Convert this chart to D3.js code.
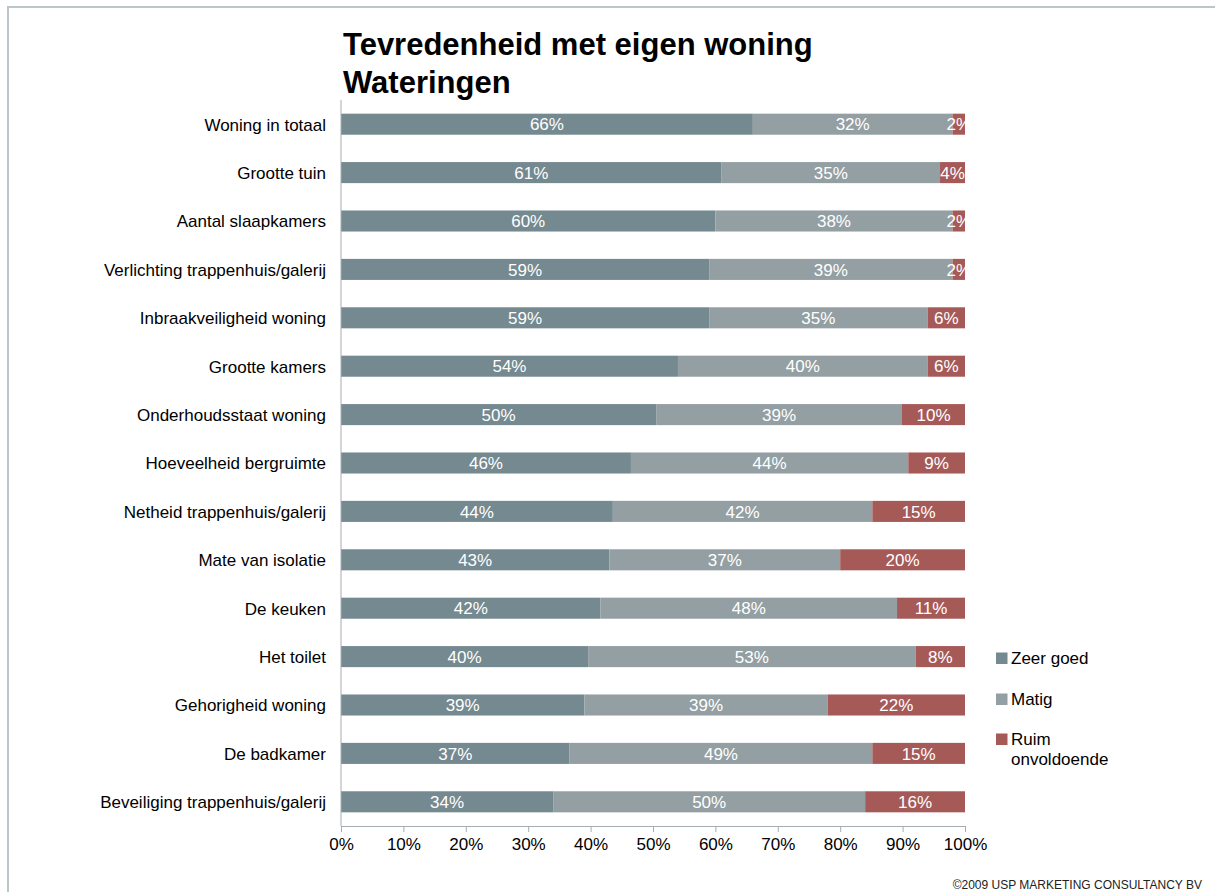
<!DOCTYPE html>
<html>
<head>
<meta charset="utf-8">
<script src="https://cdn.jsdelivr.net/npm/d3@7"></script>
<style>
  html, body { margin: 0; padding: 0; background: #fff; }
  svg { display: block; font-family: "Liberation Sans", Arial, sans-serif; }
  svg text { font-family: "Liberation Sans", Arial, sans-serif; }
</style>
</head>
<body>
<svg id="chart" width="1215" height="892"></svg>
<script>
// Survey items (top to bottom)
const categories = [
  "Woning in totaal",
  "Grootte tuin",
  "Aantal slaapkamers",
  "Verlichting trappenhuis/galerij",
  "Inbraakveiligheid woning",
  "Grootte kamers",
  "Onderhoudsstaat woning",
  "Hoeveelheid bergruimte",
  "Netheid trappenhuis/galerij",
  "Mate van isolatie",
  "De keuken",
  "Het toilet",
  "Gehorigheid woning",
  "De badkamer",
  "Beveiliging trappenhuis/galerij"
];

// Percentages per answer
const zeerGoed = [66, 61, 60, 59, 59, 54, 50, 46, 44, 43, 42, 40, 39, 37, 34];
const matig    = [32, 35, 38, 39, 35, 40, 39, 44, 42, 37, 48, 53, 39, 49, 50];
const ruimOnvoldoende = [2, 4, 2, 2, 6, 6, 10, 9, 15, 20, 11, 8, 22, 15, 16];

const seriesNames = ["Zeer goed", "Matig", "Ruim onvoldoende"];
const seriesColors = ["#748990", "#939fa3", "#a65a58"];
const xTicks = [0, 0.1, 0.2, 0.3, 0.4, 0.5, 0.6, 0.7, 0.8, 0.9, 1];

const titleLines = ["Tevredenheid met eigen woning", "Wateringen"];
const footer = "\u00a92009 USP MARKETING CONSULTANCY BV";

// Table built from the arrays above
const rows = categories.map((c, i) => ({
  cat: c,
  "Zeer goed": zeerGoed[i],
  "Matig": matig[i],
  "Ruim onvoldoende": ruimOnvoldoende[i]
}));

const svg = d3.select("#chart");
const FONT = "Liberation Sans, Arial, sans-serif";

// Slide frame
svg.append("path")
  .attr("d", "M8,1000 L8,7 L1215,7")
  .attr("fill", "none")
  .attr("stroke", "#bcc5c7")
  .attr("stroke-width", 2);

const plot = { left: 341, right: 965, top: 100, bottom: 826 };

const x = d3.scaleLinear().domain([0, 1]).range([plot.left, plot.right]);
const y = d3.scaleBand().domain(categories).range([plot.top, plot.bottom]).paddingInner(0.565).paddingOuter(0.2825);
const color = d3.scaleOrdinal().domain(seriesNames).range(seriesColors);

const stack = d3.stack().keys(seriesNames).offset(d3.stackOffsetExpand);
const stacked = stack(rows);

// Title
svg.append("g").selectAll("text")
  .data(titleLines)
  .join("text")
  .attr("x", 343)
  .attr("y", (d, i) => 55 + i * 38)
  .attr("font-size", 31)
  .attr("font-weight", "bold")
  .attr("fill", "#000")
  .text(d => d);

// Bars
const layers = svg.append("g").selectAll("g")
  .data(stacked)
  .join("g")
  .attr("fill", d => color(d.key));

layers.selectAll("rect")
  .data(d => d.map(s => ({ s, key: d.key })))
  .join("rect")
  .attr("x", d => x(d.s[0]))
  .attr("y", d => y(d.s.data.cat))
  .attr("width", d => x(d.s[1]) - x(d.s[0]))
  .attr("height", y.bandwidth());

// Value labels
layers.selectAll("text")
  .data(d => d.map(s => ({ s, key: d.key })))
  .join("text")
  .attr("x", d => (x(d.s[0]) + x(d.s[1])) / 2)
  .attr("y", d => y(d.s.data.cat) + y.bandwidth() / 2)
  .attr("dy", "0.36em")
  .attr("text-anchor", "middle")
  .attr("font-size", 17)
  .attr("fill", "#fff")
  .text(d => d.s.data[d.key] + "%");

// Category axis
const yAxis = svg.append("g")
  .attr("transform", `translate(${plot.left},0)`)
  .call(d3.axisLeft(y).tickSize(0).tickPadding(15));
yAxis.attr("font-family", FONT);
yAxis.select(".domain").attr("stroke", "#a4adb0").attr("d", `M0,${plot.top}V${plot.bottom}`);
yAxis.selectAll("text").attr("font-size", 17).attr("fill", "#000").attr("dy", "0.38em");

// Percentage axis
const xAxis = svg.append("g")
  .attr("transform", `translate(0,${plot.bottom})`)
  .call(d3.axisBottom(x).tickValues(xTicks).tickFormat(d3.format(".0%")).tickSizeInner(6).tickSizeOuter(0).tickPadding(6));
xAxis.attr("font-family", FONT);
xAxis.select(".domain").attr("stroke", "#a4adb0");
xAxis.selectAll(".tick line").attr("stroke", "#a4adb0");
xAxis.selectAll("text").attr("font-size", 17).attr("fill", "#000");

// Legend
const legend = svg.append("g").attr("transform", "translate(996,0)");
const legendY = [664, 705, 745];
const legendItems = legend.selectAll("g")
  .data(seriesNames)
  .join("g")
  .attr("transform", (d, i) => `translate(0,${legendY[i]})`);
legendItems.append("rect")
  .attr("x", 0).attr("y", -11.5)
  .attr("width", 11.5).attr("height", 11.5)
  .attr("fill", d => color(d));
legendItems.append("text")
  .attr("x", 15)
  .attr("y", 0)
  .attr("font-size", 17)
  .attr("fill", "#000")
  .each(function(d) {
    const words = d === "Ruim onvoldoende" ? ["Ruim", "onvoldoende"] : [d];
    d3.select(this).selectAll("tspan")
      .data(words)
      .join("tspan")
      .attr("x", 15)
      .attr("dy", (w, i) => i === 0 ? 0 : 20)
      .text(w => w);
  });

// Footer
svg.append("text")
  .attr("x", 1202)
  .attr("y", 889)
  .attr("text-anchor", "end")
  .attr("font-size", 12)
  .attr("fill", "#222")
  .text(footer);
</script>
</body>
</html>
